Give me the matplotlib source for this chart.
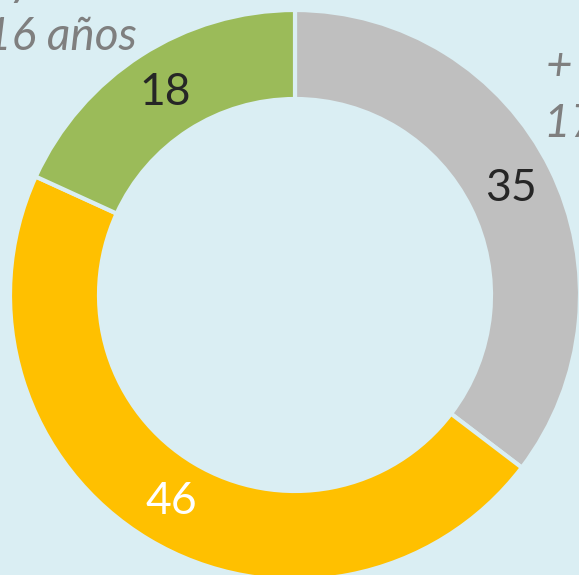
import matplotlib.pyplot as plt
import numpy as np

# donut data, clockwise from the top
values = [35, 46, 18]
colors = ["#BFBFBF", "#FFC000", "#9BBB59"]
label_colors = ["#262626", "white", "#262626"]

bg = "#DAEEF3"

fig = plt.figure(figsize=(5.79, 5.75), dpi=100, facecolor=bg)
ax = fig.add_axes([0, 0, 1, 1])
ax.set_facecolor(bg)

# work in pixel-like units, ring centre at (0, 0)
outer = 285
ring = 89
wedges, _ = ax.pie(values, colors=colors, startangle=90, counterclock=False,
                   radius=outer, center=(0, 0),
                   wedgeprops=dict(width=ring, edgecolor=bg, linewidth=3))

r_lab = outer - ring / 2
for w, v, c in zip(wedges, values, label_colors):
    mid = np.deg2rad((w.theta1 + w.theta2) / 2)
    ax.text(r_lab * np.cos(mid), r_lab * np.sin(mid), str(v),
            ha="center", va="center", fontsize=32, color=c,
            family=["Lato", "DejaVu Sans"])

ax.set_xlim(-295, 284)
ax.set_ylim(-280, 295)
ax.set_aspect("auto")
ax.axis("off")

lab_kw = dict(fontsize=33, color="#7F7F7F", style="italic",
              family=["Lato", "DejaVu Sans"], va="baseline")
# category labels, partly outside the visible crop
fig.text(33 / 579, 1 - (-5) / 575, "Entre 6 y", ha="right", **lab_kw)
fig.text(137 / 579, 1 - 50 / 575, "16 años", ha="right", **lab_kw)
fig.text(546 / 579, 1 - 80 / 575, "+ de", ha="left", **lab_kw)
fig.text(544 / 579, 1 - 137 / 575, "17 años", ha="left", **lab_kw)

fig.savefig("out.png", dpi=100, facecolor=bg)
